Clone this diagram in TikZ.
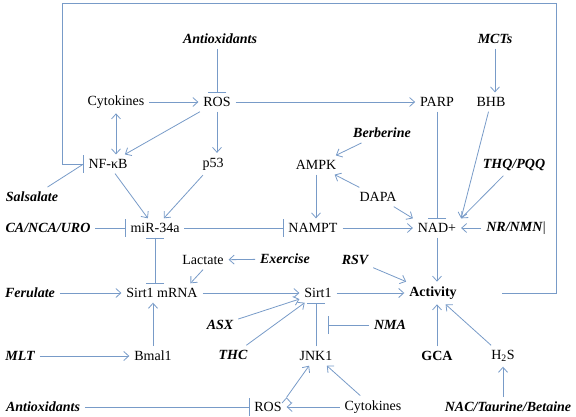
\documentclass[tikz,border=0pt]{standalone}
\usepackage{fontspec}
\setmainfont{Liberation Serif}
\usetikzlibrary{arrows.meta,calc}
\definecolor{linkblue}{RGB}{120,155,200}

\begin{document}
\begin{tikzpicture}[x=1pt,y=-1pt,>={Straight Barb[length=5pt,width=9pt]},
		mol node/.style={font=\fontsize{14}{16.8}\selectfont,inner sep=2pt,outer sep=3pt},
		drug node/.style={mol node,font=\fontsize{14}{16.8}\selectfont\bfseries\itshape},
		act line/.style={draw=linkblue,line width=0.8pt,->},
		inh line/.style={draw=linkblue,line width=0.8pt,-{Bar[width=18pt]}}]
		\useasboundingbox (0,0) rectangle (576,416);
		% 上部
		\node[drug node] (anti1) at (220,39) {Antioxidants};
		\node[drug node] (mcts) at (495,39) {MCTs};
		\node[mol node] (cyto1) at (116,102) {Cytokines};
		\node[mol node] (ros1) at (217,102) {ROS};
		\node[mol node] (parp) at (437,102) {PARP};
		\node[mol node] (bhb) at (491,102) {BHB};
		\node[drug node] (berb) at (382,133) {Berberine};
		\node[mol node] (nfkb) at (108,164) {NF-κB};
		\node[mol node] (p53) at (213,164) {p53};
		\node[mol node] (ampk) at (316,165) {AMPK};
		\node[drug node] (thq) at (514,165) {THQ/PQQ};
		\node[drug node] (sals) at (32,197) {Salsalate};
		\node[mol node] (dapa) at (378,197) {DAPA};
		\node[drug node] (cano) at (48,228) {CA/NCA/URO};
		\node[mol node] (mir) at (155,228) {miR-34a};
		\node[mol node] (nampt) at (313,228) {NAMPT};
		\node[mol node] (nad) at (437,228) {NAD+};
		\node[mol node] (nrnmn) at (516,228) {\textbf{\textit{NR/NMN}}|};
		% 中部
		\node[mol node] (lact) at (203,260) {Lactate};
		\node[drug node] (exer) at (285,259) {Exercise};
		\node[drug node] (rsv) at (355,260) {RSV};
		\node[drug node] (feru) at (30,293) {Ferulate};
		\node[mol node] (mrna) at (162,293) {Sirt1 mRNA};
		\node[mol node] (sirt) at (318,293) {Sirt1};
		\node[mol node,font=\fontsize{14}{16.8}\selectfont\bfseries] (act) at (433,293) {Activity};
		\node[drug node] (asx) at (220,325) {ASX};
		\node[drug node] (nma) at (390,325) {NMA};
		\node[drug node] (mlt) at (20,356) {MLT};
		\node[mol node] (bmal) at (153,356) {Bmal1};
		\node[drug node] (thc) at (233,355) {THC};
		\node[mol node] (jnk) at (316,356) {JNK1};
		\node[mol node,font=\fontsize{14}{16.8}\selectfont\bfseries] (gca) at (437,356) {GCA};
		\node[mol node] (h2s) at (503,356) {H\textsubscript{2}S};
		% 下部
		\node[drug node] (anti2) at (43,407) {Antioxidants};
		\node[mol node] (ros2) at (268,407) {ROS};
		\node[mol node] (cyto2) at (373,407) {Cytokines};
		\node[drug node] (nac) at (508,407) {NAC/Taurine/Betaine};
		\coordinate (fb) at (502,293);
		\coordinate (tl) at (62,3);
		\coordinate (nmat) at (328,325);
		\path[act line]
		(cyto1) edge (ros1)
		(ros1) edge (parp)
		(mcts) edge (mcts |- bhb.north)
		(cyto1) edge [<->] (cyto1 |- nfkb.north)
		(ros1) edge (nfkb)
		(ros1) edge (ros1 |- p53.north)
		(nfkb) edge (mir)
		(p53) edge (mir)
		(ampk) edge (ampk |- nampt.north)
		(berb) edge (ampk)
		(dapa) edge (ampk)
		(dapa) edge (nad.north west)
		(bhb) edge (nad.north east)
		(thq) edge (nad.north east)
		(nampt) edge (nad)
		(nrnmn) edge (nad)
		(nad) edge (nad |- act.north)
		(exer) edge (lact)
		(lact.south) edge ($(mrna.north)!0.7!(mrna.north east)$)
		(feru) edge (mrna)
		(mrna) edge (sirt)
		(bmal) edge (bmal |- mrna.south)
		(mlt) edge (bmal)
		(asx) edge (sirt)
		(thc) edge (sirt)
		(sirt) edge (act)
		(rsv) edge (act)
		(gca) edge (gca |- act.south)
		(h2s) edge (act)
		(h2s |- nac.north) edge (h2s)
		(cyto2) edge (ros2)
		(ros2.north east) edge (jnk)
		(cyto2) edge (jnk);
		\path[inh line]
		(anti1.south -| ros1) edge (ros1)
		(cano) edge (mir)
		(mir) edge (nampt)
		(parp) edge (nad)
		(mir.south) edge (mir.south |- mrna.north)
		(jnk) edge (jnk |- sirt.south)
		(nma) edge (nmat)
		(anti2) edge (ros2);
		\path[act line,-] (sals) edge (nfkb.west);
		\draw[inh line] (fb) -- ++(54,0) |- (tl) |- (nfkb.west);
\end{tikzpicture}
\end{document}
